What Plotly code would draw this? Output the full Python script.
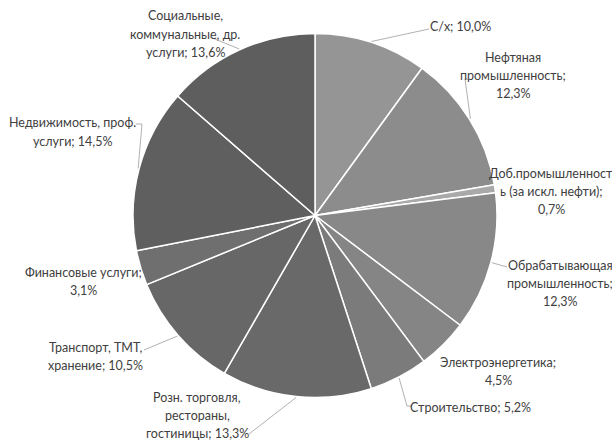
import math
import plotly.graph_objects as go

# Structure of value added by sector, %
categories = [
    "С/х",
    "Нефтяная промышленность",
    "Доб.промышленность (за искл. нефти)",
    "Обрабатывающая промышленность",
    "Электроэнергетика",
    "Строительство",
    "Розн. торговля, рестораны, гостиницы",
    "Транспорт, ТМТ, хранение",
    "Финансовые услуги",
    "Недвижимость, проф. услуги",
    "Социальные, коммунальные, др. услуги",
]
shares = [10.0, 12.3, 0.7, 12.3, 4.5, 5.2, 13.3, 10.5, 3.1, 14.5, 13.6]

# Label wording, wrapped into lines; {v} is replaced by the share
label_lines = [
    ["С/х; {v}"],
    ["Нефтяная", "промышленность;", "{v}"],
    ["Доб.промышленност", "ь (за искл. нефти);", "{v}"],
    ["Обрабатывающая", "промышленность;", "{v}"],
    ["Электроэнергетика;", "{v}"],
    ["Строительство; {v}"],
    ["Розн. торговля,", "рестораны,", "гостиницы; {v}"],
    ["Транспорт, ТМТ,", "хранение; {v}"],
    ["Финансовые услуги;", "{v}"],
    ["Недвижимость, проф.", "услуги; {v}"],
    ["Социальные,", "коммунальные, др.", "услуги; {v}"],
]

# ---- styling / layout -------------------------------------------------
W, H = 612, 441
slice_colors = ["#959595", "#8c8c8c", "#a9a9a9", "#888888", "#858585", "#7b7b7b",
                "#696969", "#676767", "#6f6f6f", "#5f5f5f", "#5e5e5e"]
CX, CY, R = 315, 215.5, 182          # pie centre and radius, px
FONT = "Lato"
FSIZE = 12.5
LINE_H = 18.3
TEXT_COLOR = "#404040"
LEADER_COLOR = "#a8a8a8"

# label block placement (centre x, first-line y) in px
label_pos = [
    (460, 27), (513, 57), (551, 173), (560, 265), (498, 362), (470, 407),
    (197, 397), (95, 347), (83, 272), (72, 123), (185, 16),
]
# leader line bends after leaving the slice edge (None = no leader)
leader_pts = [
    [(429, 29)],
    [(465, 79), (468, 79)],
    None,
    [(507, 267)],
    None,
    [(407, 406), (412, 406)],
    [(249, 434)],
    [(144, 350)],
    None,
    [(142, 124), (136, 124)],
    [(210, 37)],
]


def px_x(x):
    return x / W


def px_y(y):
    return 1 - y / H


def fmt(v):
    return f"{v:.1f}".replace(".", ",") + "%"


fig = go.Figure(
    go.Pie(
        labels=categories,
        values=shares,
        sort=False,
        direction="clockwise",
        rotation=0,
        textinfo="none",
        hoverinfo="label+percent",
        marker=dict(colors=slice_colors, line=dict(color="white", width=1.5)),
        domain=dict(x=[px_x(CX - R), px_x(CX + R)],
                    y=[px_y(CY + R), px_y(CY - R)]),
        showlegend=False,
    )
)

annotations = []
shapes = []
total = sum(shares)
cum = 0.0
for i, v in enumerate(shares):
    mid = (cum + v / 2) / total * 2 * math.pi
    cum += v
    ax = CX + (R + 1) * math.sin(mid)
    ay = CY - (R + 1) * math.cos(mid)

    lx, ly = label_pos[i]
    for k, line in enumerate(label_lines[i]):
        annotations.append(dict(
            x=px_x(lx), y=px_y(ly + k * LINE_H), xref="paper", yref="paper",
            text=line.replace("{v}", fmt(v)), showarrow=False,
            xanchor="center", yanchor="middle",
            font=dict(family=FONT, size=FSIZE, color=TEXT_COLOR),
        ))

    if leader_pts[i]:
        pts = [(ax, ay)] + leader_pts[i]
        path = "M " + " L ".join(f"{px_x(x):.5f},{px_y(y):.5f}" for x, y in pts)
        shapes.append(dict(type="path", path=path, xref="paper", yref="paper",
                           line=dict(color=LEADER_COLOR, width=0.9)))

fig.update_layout(
    width=W, height=H,
    margin=dict(l=0, r=0, t=0, b=0),
    paper_bgcolor="white",
    plot_bgcolor="white",
    annotations=annotations,
    shapes=shapes,
)

fig.write_html("out.html")
